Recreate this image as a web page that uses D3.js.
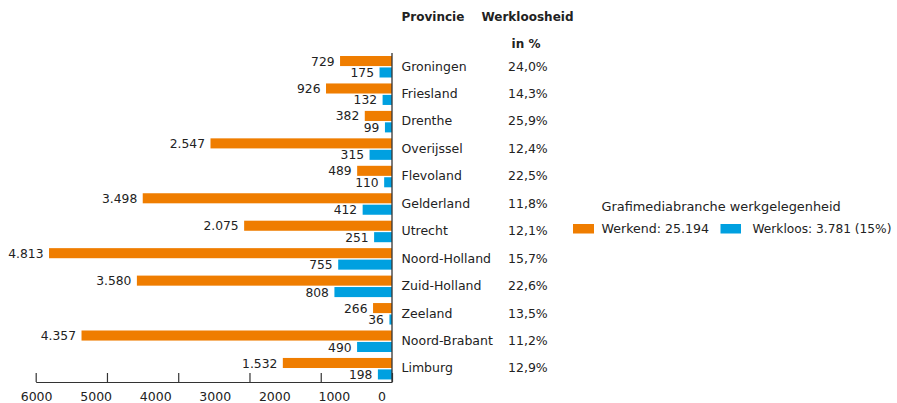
<!DOCTYPE html>
<html>
<head>
<meta charset="utf-8">
<script src="https://cdn.jsdelivr.net/npm/d3@7"></script>
<style>
  body { margin: 0; background: #fff; }
  svg text { font-family: 'DejaVu Sans', sans-serif; fill: #222; }
</style>
</head>
<body>
<svg id="chart" width="897" height="403"></svg>
<script>
const provinces = ['Groningen', 'Friesland', 'Drenthe', 'Overijssel', 'Flevoland', 'Gelderland',
  'Utrecht', 'Noord-Holland', 'Zuid-Holland', 'Zeeland', 'Noord-Brabant', 'Limburg'];
const werkend = [729, 926, 382, 2547, 489, 3498, 2075, 4813, 3580, 266, 4357, 1532];
const werkloos = [175, 132, 99, 315, 110, 412, 251, 755, 808, 36, 490, 198];
const werkloosheid = ['24,0%', '14,3%', '25,9%', '12,4%', '22,5%', '11,8%',
  '12,1%', '15,7%', '22,6%', '13,5%', '11,2%', '12,9%'];
const tickValues = [0, 1000, 2000, 3000, 4000, 5000];
const tickLabels = ['6000', '5000', '4000', '3000', '2000', '1000', '0'];
const series = ['werkend', 'werkloos'];

const colors = { werkend: '#ef7d00', werkloos: '#00a0e0' };
const nl = d3.formatLocale({ decimal: ',', thousands: '.', grouping: [3], currency: ['', ''] });
const fmt = nl.format(',d');

const data = provinces.map((p, i) => ({
  province: p,
  werkend: werkend[i],
  werkloos: werkloos[i],
  pct: werkloosheid[i],
}));

const svg = d3.select('#chart');
const zeroX = 392;
const axisY = 382;

const x = d3.scaleLinear().domain([0, 5000]).range([zeroX, 35.7]);
const y0 = d3.scaleBand().domain(provinces).range([56, 56 + 12 * 27.45]);
const y1 = d3.scaleBand().domain(series).range([0, 21.5]).paddingInner(0.12);

// bars
const rows = svg
  .selectAll('g.row')
  .data(data)
  .enter()
  .append('g')
  .attr('class', 'row')
  .attr('transform', (d) => `translate(0,${y0(d.province)})`);

rows
  .selectAll('rect')
  .data((d) => series.map((s) => ({ key: s, value: d[s] })))
  .enter()
  .append('rect')
  .attr('x', (d) => x(d.value))
  .attr('y', (d) => y1(d.key))
  .attr('width', (d) => zeroX - x(d.value))
  .attr('height', y1.bandwidth())
  .attr('fill', (d) => colors[d.key]);

rows
  .selectAll('text.val')
  .data((d) => series.map((s) => ({ key: s, value: d[s] })))
  .enter()
  .append('text')
  .attr('class', 'val')
  .attr('x', (d) => x(d.value) - 5.5)
  .attr('y', (d) => y1(d.key) + y1.bandwidth() - 0.5)
  .attr('text-anchor', 'end')
  .attr('font-size', 12.3)
  .text((d) => fmt(d.value));

// province names and percentages
rows
  .append('text')
  .attr('x', 401.5)
  .attr('y', 14.5)
  .attr('font-size', 12.5)
  .text((d) => d.province);

rows
  .append('text')
  .attr('x', 508)
  .attr('y', 14.5)
  .attr('font-size', 12.5)
  .text((d) => d.pct);

// x axis: ticks point up, labels drawn separately
svg
  .append('g')
  .attr('transform', `translate(0,${axisY})`)
  .call(d3.axisTop(x).tickValues(tickValues).tickSizeInner(9).tickSizeOuter(0).tickFormat(''))
  .call((g) => g.selectAll('path, line').attr('stroke', '#333').attr('stroke-width', 1.2));

const labelX = d3.scalePoint().domain(tickLabels).range([20.7, 378]);
svg
  .append('g')
  .selectAll('text')
  .data(tickLabels)
  .enter()
  .append('text')
  .attr('x', (d) => labelX(d))
  .attr('y', 401)
  .attr('font-size', 12.5)
  .text((d) => d);

// vertical axis line
svg
  .append('line')
  .attr('x1', zeroX)
  .attr('x2', zeroX)
  .attr('y1', 53)
  .attr('y2', axisY)
  .attr('stroke', '#333')
  .attr('stroke-width', 1.3);

// headers
svg.append('text').attr('x', 401.5).attr('y', 21).attr('font-size', 12).attr('font-weight', 'bold').text('Provincie');
svg.append('text').attr('x', 481.5).attr('y', 21).attr('font-size', 12).attr('font-weight', 'bold').text('Werkloosheid');
svg.append('text').attr('x', 526).attr('y', 48).attr('font-size', 12).attr('font-weight', 'bold')
  .attr('text-anchor', 'middle').text('in %');

// legend
const totWerkend = d3.sum(werkend);
const totWerkloos = d3.sum(werkloos);
const legend = svg.append('g').attr('transform', 'translate(573,211)');
legend.append('text').attr('x', 28.5).attr('y', 0).attr('font-size', 12.9).text('Grafimediabranche werkgelegenheid');
legend.append('rect').attr('x', 0).attr('y', 13).attr('width', 21).attr('height', 9.5).attr('fill', colors.werkend);
legend.append('text').attr('x', 28.5).attr('y', 22).attr('font-size', 12.6).text(`Werkend: ${fmt(totWerkend)}`);
legend.append('rect').attr('x', 147.5).attr('y', 13).attr('width', 20.5).attr('height', 9.5).attr('fill', colors.werkloos);
legend.append('text').attr('x', 179.5).attr('y', 22).attr('font-size', 12.2)
  .text(`Werkloos: ${fmt(totWerkloos)} (${Math.round(totWerkloos / totWerkend * 100)}%)`);
</script>
</body>
</html>
